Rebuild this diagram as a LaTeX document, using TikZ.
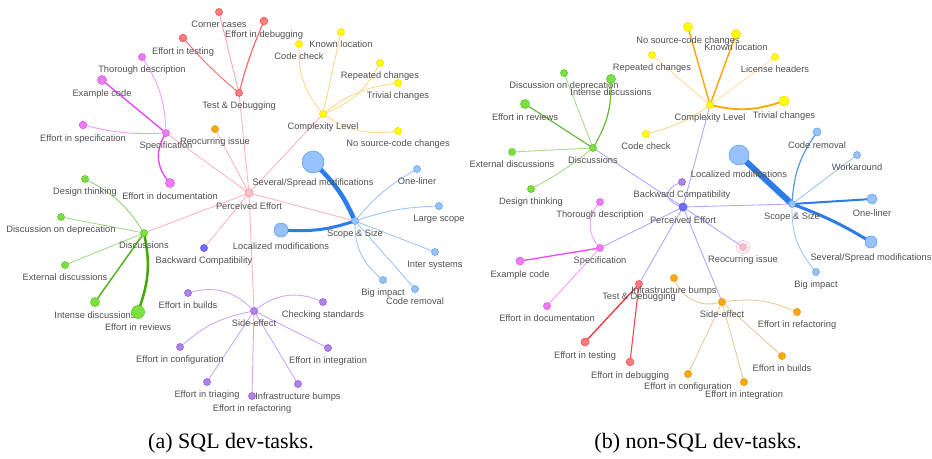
\documentclass[tikz,border=0pt]{standalone}
\usepackage{fontspec}
\setmainfont{Liberation Serif}
\setsansfont{Liberation Sans}

\definecolor{bluBg}{HTML}{97C2FC}\definecolor{bluBd}{HTML}{2B7CE9}
\definecolor{yelBg}{HTML}{FFFF00}\definecolor{yelBd}{HTML}{FFA500}
\definecolor{redBg}{HTML}{FB7E81}\definecolor{redBd}{HTML}{FA0A10}
\definecolor{grnBg}{HTML}{7BE141}\definecolor{grnBd}{HTML}{41A906}
\definecolor{magBg}{HTML}{EB7DF4}\definecolor{magBd}{HTML}{E129F0}
\definecolor{purBg}{HTML}{AD85E4}\definecolor{purBd}{HTML}{7C29F0}
\definecolor{orgBg}{HTML}{FFA807}\definecolor{orgBd}{HTML}{C37F00}
\definecolor{indBg}{HTML}{6E6EFD}\definecolor{indBd}{HTML}{4220FB}
\definecolor{pnkBg}{HTML}{FFC0CB}\definecolor{pnkBd}{HTML}{FD5A77}
\definecolor{lblText}{HTML}{505050}

\pgfdeclarelayer{edges}
\pgfsetlayers{edges,main}

\tikzset{
  dot/.style={circle, inner sep=0pt, outer sep=0pt, minimum size=7pt, line width=0.6pt, fill=#1Bg, draw=#1Bd!45!#1Bg},
  lbl/.style={font=\sffamily\fontsize{9.3}{10}\selectfont, text=lblText, inner sep=0pt, text height=6.7pt, text depth=1.9pt, anchor=center},
  lnk/.style={draw=#1, line width=0.9pt, line cap=round},
  subcap/.style={font=\fontsize{22}{24}\selectfont, inner sep=0pt},
}

\begin{document}
\begin{tikzpicture}[x=1pt, y=-1pt, label distance=10pt]
\useasboundingbox (0,0) rectangle (932,458);

% (a) SQL
\node[dot=pnk, minimum size=8pt, label={[lbl]below:Perceived Effort}] (aPE) at (249,193) {};

\node[dot=red, label={[lbl]below:Test \& Debugging}] (aTD) at (239,93) {};
\node[dot=red, label={[lbl]below:Corner cases}] (aCC) at (219,12) {};
\node[dot=red, minimum size=7.6pt, label={[lbl]below:Effort in debugging}] (aED) at (264,21) {};
\node[dot=red, minimum size=7.6pt, label={[lbl]below:Effort in testing}] (aET) at (183,38) {};

\node[dot=mag, label={[lbl]below:Specification}] (aSP) at (166,133) {};
\node[dot=mag, label={[lbl]below:Thorough description}] (aTh) at (142,57) {};
\node[dot=mag, minimum size=9pt, label={[lbl]below:Example code}] (aEx) at (102,80) {};
\node[dot=mag, minimum size=7.6pt, label={[lbl]below:Effort in specification}] (aES) at (83,125) {};
\node[dot=mag, minimum size=9pt, label={[lbl]below:Effort in documentation}] (aEdoc) at (170,183) {};

\node[dot=org, label={[lbl]below:Reocurring issue}] (aRI) at (215,129) {};

\node[dot=yel, label={[lbl]below:Complexity Level}] (aCL) at (323,114) {};
\node[dot=yel, label={[lbl]below:Code check}] (aCk) at (299,44) {};
\node[dot=yel, label={[lbl]below:Known location}] (aKL) at (341,32) {};
\node[dot=yel, label={[lbl]below:Repeated changes}] (aRC) at (380,63) {};
\node[dot=yel, label={[lbl]below:Trivial changes}] (aTC) at (398,83) {};
\node[dot=yel, label={[lbl]below:No source-code changes}] (aNS) at (398,131) {};

\node[dot=blu, label={[lbl]below:Scope \& Size}] (aSS) at (355,221) {};
\node[dot=blu, minimum size=22pt, label={[lbl]below:Several/Spread modifications}] (aSev) at (313,162) {};
\node[dot=blu, minimum size=14pt, label={[lbl]below:Localized modifications}] (aLoc) at (281,230) {};
\node[dot=blu, label={[lbl]below:One-liner}] (aOL) at (417,169) {};
\node[dot=blu, label={[lbl]below:Large scope}] (aLS) at (439,206) {};
\node[dot=blu, label={[lbl]below:Inter systems}] (aIS) at (435,252) {};
\node[dot=blu, label={[lbl]below:Big impact}] (aBI) at (383,280) {};
\node[dot=blu, label={[lbl]below:Code removal}] (aCR) at (415,289) {};

\node[dot=ind, label={[lbl]below:Backward Compatibility}] (aBC) at (204,248) {};

\node[dot=pur, label={[lbl]below:Side-effect}] (aSE) at (254,311) {};
\node[dot=pur, label={[lbl]below:Checking standards}] (aCS) at (323,302) {};
\node[dot=pur, label={[lbl]below:Effort in builds}] (aEB) at (188,293) {};
\node[dot=pur, label={[lbl]below:Effort in configuration}] (aEC) at (180,347) {};
\node[dot=pur, label={[lbl]below:Effort in integration}] (aEI) at (328,348) {};
\node[dot=pur, label={[lbl]below:Effort in triaging}] (aETr) at (207,382) {};
\node[dot=pur, label={[lbl]below:Effort in refactoring}] (aER) at (252,396) {};
\node[dot=pur, label={[lbl]below:Infrastructure bumps}] (aIB) at (298,384) {};

\node[dot=grn, label={[lbl]below:Discussions}] (aDI) at (144,233) {};
\node[dot=grn, label={[lbl]below:Design thinking}] (aDT) at (85,179) {};
\node[dot=grn, label={[lbl]below:Discussion on deprecation}] (aDD) at (61,217) {};
\node[dot=grn, label={[lbl]below:External discussions}] (aXD) at (65,265) {};
\node[dot=grn, minimum size=9pt, label={[lbl]below:Intense discussions}] (aID) at (95,302) {};
\node[dot=grn, minimum size=13pt, label={[lbl]below:Effort in reviews}] (aRv) at (138,312) {};

% (b) non-SQL
\node[dot=ind, minimum size=8pt, label={[lbl]below:Perceived Effort}] (bPE) at (683,207) {};
\node[dot=pur, label={[lbl]below:Backward Compatibility}] (bBC) at (682,182) {};
\node[dot=pnk, label={[lbl]below:Reocurring issue}] (bRI) at (743,247) {};

\node[dot=grn, label={[lbl]below:Discussions}] (bDI) at (593,148) {};
\node[dot=grn, label={[lbl]below:Discussion on deprecation}] (bDD) at (564,73) {};
\node[dot=grn, minimum size=9pt, label={[lbl]below:Intense discussions}] (bID) at (611,79) {};
\node[dot=grn, minimum size=9pt, label={[lbl]below:Effort in reviews}] (bRv) at (525,104) {};
\node[dot=grn, label={[lbl]below:External discussions}] (bXD) at (512,152) {};
\node[dot=grn, label={[lbl]below:Design thinking}] (bDT) at (531,189) {};

\node[dot=yel, label={[lbl]below:Complexity Level}] (bCL) at (710,105) {};
\node[dot=yel, minimum size=9pt, label={[lbl]below:No source-code changes}] (bNS) at (688,27) {};
\node[dot=yel, minimum size=9pt, label={[lbl]below:Known location}] (bKL) at (736,34) {};
\node[dot=yel, label={[lbl]below:Repeated changes}] (bRC) at (652,55) {};
\node[dot=yel, label={[lbl]below:License headers}] (bLH) at (775,57) {};
\node[dot=yel, minimum size=10pt, label={[lbl]below:Trivial changes}] (bTC) at (784,101) {};
\node[dot=yel, label={[lbl]below:Code check}] (bCk) at (646,134) {};

\node[dot=blu, label={[lbl]below:Scope \& Size}] (bSS) at (792,204) {};
\node[dot=blu, minimum size=20pt, label={[lbl]below:Localized modifications}] (bLoc) at (739,155) {};
\node[dot=blu, minimum size=8pt, label={[lbl]below:Code removal}] (bCR) at (817,132) {};
\node[dot=blu, label={[lbl]below:Workaround}] (bWA) at (857,155) {};
\node[dot=blu, minimum size=10pt, label={[lbl]below:One-liner}] (bOL) at (872,199) {};
\node[dot=blu, minimum size=12pt, label={[lbl]below:Several/Spread modifications}] (bSev) at (871,242) {};
\node[dot=blu, label={[lbl]below:Big impact}] (bBI) at (816,272) {};

\node[dot=mag, label={[lbl]below:Specification}] (bSP) at (600,248) {};
\node[dot=mag, label={[lbl]below:Thorough description}] (bTh) at (600,202) {};
\node[dot=mag, minimum size=8pt, label={[lbl]below:Example code}] (bEx) at (520,261) {};
\node[dot=mag, label={[lbl]below:Effort in documentation}] (bEdoc) at (547,306) {};

\node[dot=red, label={[lbl]below:Test \& Debugging}] (bTD) at (639,284) {};
\node[dot=red, minimum size=8pt, label={[lbl]below:Effort in testing}] (bET) at (585,342) {};
\node[dot=red, minimum size=7.6pt, label={[lbl]below:Effort in debugging}] (bED) at (630,362) {};

\node[dot=org, label={[lbl]below:Side-effect}] (bSE) at (722,302) {};
\node[dot=org, label={[lbl]below:Infrastructure bumps}] (bIB) at (674,278) {};
\node[dot=org, label={[lbl]below:Effort in refactoring}] (bER) at (797,312) {};
\node[dot=org, label={[lbl]below:Effort in builds}] (bEB) at (782,356) {};
\node[dot=org, label={[lbl]below:Effort in configuration}] (bEC) at (688,374) {};
\node[dot=org, label={[lbl]below:Effort in integration}] (bEI) at (744,382) {};

\draw[pnkBd!45!white, line width=0.6pt] (bRI) circle (6.5pt);

\node[subcap] (capA) at (231,443) {(a) SQL dev-tasks.};
\node[subcap] (capB) at (698,443) {(b) non-SQL dev-tasks.};

\begin{pgfonlayer}{edges}
  \foreach \c in {aTD,aSP,aDI,aCL,aSS,aRI,aBC,aSE}
    \draw[lnk=pnkBd!45!white] (aPE) -- (\c);

  \draw[lnk=redBd!40!white, line width=0.8pt] (aTD) -- (aCC);
  \draw[lnk=redBd!65!white, line width=1.1pt] (aTD) to[bend left=4] (aED);
  \draw[lnk=redBd!60!white] (aTD) to[bend left=4] (aET);

  \draw[lnk=magBd!45!white] (aSP) to[bend right=15] (aTh);
  \draw[lnk=magBd!85!white, line width=1.4pt] (aSP) -- (aEx);
  \draw[lnk=magBd!45!white] (aSP) to[bend left=8] (aES);
  \draw[lnk=magBd!85!white, line width=1.4pt] (aSP) to[bend right=35] (aEdoc);

  \draw[lnk=yelBd!45!white] (aCL) to[bend left=20] (aCk);
  \draw[lnk=yelBd!45!white] (aCL) -- (aKL);
  \draw[lnk=yelBd!45!white] (aCL) to[bend right=20] (aRC);
  \draw[lnk=yelBd!45!white] (aCL) to[bend left=15] (aTC);
  \draw[lnk=yelBd!45!white] (aCL) to[bend right=20] (aNS);

  \draw[lnk=bluBd, line width=4.5pt] (aSS) to[bend right=10] (aSev);
  \draw[lnk=bluBd, line width=3pt] (aSS) to[bend left=10] (aLoc);
  \draw[lnk=bluBd!45!white] (aSS) to[bend left=10] (aOL);
  \draw[lnk=bluBd!45!white] (aSS) to[bend left=8] (aLS);
  \draw[lnk=bluBd!45!white] (aSS) -- (aIS);
  \draw[lnk=bluBd!45!white] (aSS) to[bend right=25] (aBI);
  \draw[lnk=bluBd!45!white] (aSS) -- (aCR);

  \draw[lnk=grnBd!55!white] (aDI) to[bend right=15] (aDT);
  \draw[lnk=grnBd!45!white] (aDI) -- (aDD);
  \draw[lnk=grnBd!45!white] (aDI) -- (aXD);
  \draw[lnk=grnBd!90!white, line width=1.5pt] (aDI) -- (aID);
  \draw[lnk=grnBd, line width=2.5pt] (aDI) to[bend left=15] (aRv);

  \draw[lnk=purBd!40!white] (aSE) to[bend right=30] (aEB);
  \draw[lnk=purBd!40!white] (aSE) to[bend left=30] (aCS);
  \draw[lnk=purBd!40!white] (aSE) to[bend right=15] (aEC);
  \foreach \c in {aETr,aER,aIB,aEI}
    \draw[lnk=purBd!40!white] (aSE) -- (\c);

  \foreach \c in {bDI,bCL,bSS,bRI,bSE,bTD,bSP}
    \draw[lnk=indBd!40!white] (bPE) -- (\c);
  \draw[lnk=indBd!40!white] (bPE) to[bend left=70, looseness=1.8] (bBC);

  \draw[lnk=grnBd!45!white] (bDI) -- (bDD);
  \draw[lnk=grnBd!80!white, line width=1.2pt] (bDI) to[bend right=15] (bID);
  \draw[lnk=grnBd!80!white, line width=1.2pt] (bDI) -- (bRv);
  \draw[lnk=grnBd!45!white] (bDI) -- (bXD);
  \draw[lnk=grnBd!45!white] (bDI) to[bend left=5] (bDT);

  \draw[lnk=yelBd, line width=1.4pt] (bCL) -- (bNS);
  \draw[lnk=yelBd, line width=1.4pt] (bCL) -- (bKL);
  \draw[lnk=yelBd!40!white] (bCL) -- (bRC);
  \draw[lnk=yelBd!35!white] (bCL) -- (bLH);
  \draw[lnk=yelBd, line width=1.8pt] (bCL) to[bend right=15] (bTC);
  \draw[lnk=yelBd!45!white] (bCL) to[bend left=10] (bCk);

  \draw[lnk=bluBd, line width=6pt] (bSS) -- (bLoc);
  \draw[lnk=bluBd!80!white, line width=1.2pt] (bSS) to[bend left=15] (bCR);
  \draw[lnk=bluBd!45!white] (bSS) -- (bWA);
  \draw[lnk=bluBd, line width=2pt] (bSS) -- (bOL);
  \draw[lnk=bluBd, line width=3pt] (bSS) to[bend left=5] (bSev);
  \draw[lnk=bluBd!45!white] (bSS) to[bend right=20] (bBI);

  \draw[lnk=magBd!45!white] (bSP) to[bend left=40] (bTh);
  \draw[lnk=magBd!85!white, line width=1.3pt] (bSP) -- (bEx);
  \draw[lnk=magBd!45!white] (bSP) -- (bEdoc);

  \draw[lnk=redBd!85!white, line width=1.3pt] (bTD) -- (bET);
  \draw[lnk=redBd!75!white, line width=1.1pt] (bTD) -- (bED);

  \draw[lnk=orgBd!40!white] (bSE) to[bend left=40] (bIB);
  \draw[lnk=orgBd!40!white] (bSE) to[bend left=15] (bER);
  \foreach \c in {bEB,bEC,bEI}
    \draw[lnk=orgBd!40!white] (bSE) -- (\c);
\end{pgfonlayer}
\end{tikzpicture}
\end{document}
